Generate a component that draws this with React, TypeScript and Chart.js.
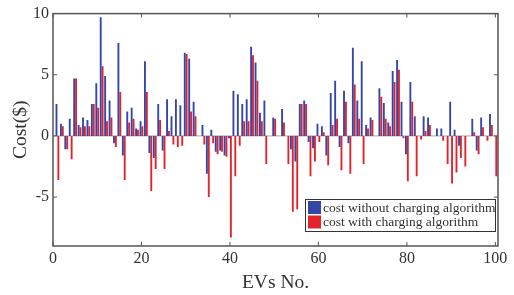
import { useEffect, useRef } from "react";
import { Chart, registerables } from "chart.js";

Chart.register(...registerables);

const evNumbers: number[] = Array.from({ length: 100 }, (_, i) => i + 1);

const costWithout: number[] = [
  2.6, 1.0, -1.1, 1.4, 4.7, 0.9, 1.5, 1.3, 2.6, 4.3,
  9.7, 4.9, 2.9, -0.6, 7.6, -1.6, 2.0, 2.3, 0.6, 1.2,
  6.1, -1.4, -1.8, 2.6, -1.2, 3.0, 1.6, 3.0, 2.5, 6.8,
  6.3, 2.8, 0, 0.9, -3.1, 0.5, -1.3, -1.2, -1.6, -0.2,
  3.7, 3.4, 2.6, 3.0, 7.3, 6.0, 1.9, 2.9, 0, 1.5,
  0, 2.2, 0, -1.1, -2.1, 2.6, 2.9, -0.5, -1.0, 1.0,
  0.8, -1.6, 3.5, 4.5, -0.9, 3.7, -0.6, 7.2, 2.9, 6.1,
  0.9, 1.5, 0, 3.9, 2.7, 1.1, 5.3, 6.2, 2.8, -1.5,
  4.4, 1.6, 0, 1.6, 1.5, 0, 0.6, 0.6, 0, 2.8,
  0.5, -0.8, 0, 0, 1.4, -1.2, 1.5, 0, 1.8, 0,
];

const costWith: number[] = [
  -3.6, 0.8, -1.1, -1.9, 4.7, 0.7, 0.8, 0.8, 2.6, 2.3,
  5.7, 1.2, 1.5, -0.9, 3.6, -3.6, 1.1, 1.4, 0.5, 0.8,
  3.6, -4.5, -2.7, 1.3, -2.7, 0.4, -0.7, -0.9, -0.8, 6.7,
  2.0, 1.6, 0, -0.7, -5.0, -0.6, -1.5, -1.3, -1.7, -8.3,
  -3.3, -0.8, 1.2, 1.2, 6.6, 4.5, 1.2, -2.3, 0, 1.4,
  0, 1.1, -2.3, -6.2, -6.0, 2.6, 2.6, -3.3, -2.1, -0.5,
  0.3, -2.4, 0.9, 1.4, -2.8, 2.8, -3.1, 4.2, 1.4, -2.3,
  0.6, 1.3, 0, 3.2, 1.4, 0.8, 4.4, 5.4, -0.2, -3.7,
  2.8, -3.3, -0.3, 0.4, 0.9, 0, 0, -0.4, -2.3, -3.9,
  -3.0, -1.8, -2.5, 0, 0.3, -1.5, 0.7, -0.4, 0.9, -3.3,
];

const xTicks: number[] = [0, 20, 40, 60, 80, 100];
const yTicks: number[] = [-5, 0, 5, 10];

const seriesLabels: string[] = ["cost without charging algorithm", "cost with charging algorithm"];
const seriesColors: string[] = ["#3447a8", "#e3232b"];

const SERIF = "'Liberation Serif', 'DejaVu Serif', serif";

const framePlugin = {
  id: "matlabFrame",
  beforeDatasetsDraw(chart: any) {
    const { ctx, chartArea, scales } = chart;
    const y0 = scales.y.getPixelForValue(0);
    ctx.save();
    ctx.strokeStyle = "#a8a8a8";
    ctx.lineWidth = 1;
    ctx.beginPath();
    ctx.moveTo(chartArea.left, y0);
    ctx.lineTo(chartArea.right, y0);
    ctx.stroke();
    ctx.restore();
  },
  afterDraw(chart: any) {
    const { ctx, chartArea, scales } = chart;
    const { left, right, top, bottom } = chartArea;
    ctx.save();
    ctx.strokeStyle = "#555";
    ctx.lineWidth = 1.5;
    ctx.strokeRect(left, top, right - left, bottom - top);
    ctx.lineWidth = 1;
    const tl = 4;
    ctx.beginPath();
    xTicks.forEach((v) => {
      const x = scales.x.getPixelForValue(v);
      ctx.moveTo(x, bottom);
      ctx.lineTo(x, bottom - tl);
      ctx.moveTo(x, top);
      ctx.lineTo(x, top + tl);
    });
    yTicks.forEach((v) => {
      const y = scales.y.getPixelForValue(v);
      ctx.moveTo(left, y);
      ctx.lineTo(left + tl, y);
      ctx.moveTo(right, y);
      ctx.lineTo(right - tl, y);
    });
    ctx.stroke();

    // axis titles
    ctx.fillStyle = "#333";
    ctx.font = `19.5px ${SERIF}`;
    ctx.textAlign = "center";
    ctx.textBaseline = "middle";
    ctx.fillText("EVs No.", (left + right) / 2, 283);
    ctx.save();
    ctx.translate(21, (top + bottom) / 2);
    ctx.rotate(-Math.PI / 2);
    ctx.fillText("Cost($)", 0, 0);
    ctx.restore();

    // legend
    const lx = 305, ly = 199, lw = 190, lh = 32;
    ctx.fillStyle = "#fff";
    ctx.fillRect(lx, ly, lw, lh);
    ctx.strokeStyle = "#333";
    ctx.lineWidth = 1;
    ctx.strokeRect(lx + 0.5, ly + 0.5, lw, lh);
    ctx.font = `13.5px ${SERIF}`;
    ctx.textAlign = "left";
    ctx.textBaseline = "middle";
    seriesLabels.forEach((lab, i) => {
      const cy = ly + 8.5 + i * 14.5;
      ctx.fillStyle = seriesColors[i];
      ctx.fillRect(lx + 3, cy - 6.5, 13, 13);
      ctx.fillStyle = "#333";
      ctx.fillText(lab, lx + 18, cy + 0.5);
    });
    ctx.restore();
  },
};

export default function App() {
  const canvasRef = useRef<HTMLCanvasElement | null>(null);

  useEffect(() => {
    document.body.style.margin = "0";
    const canvas = canvasRef.current;
    if (!canvas) return;
    const chart = new Chart(canvas, {
      type: "bar",
      data: {
        datasets: [
          {
            label: seriesLabels[0],
            data: evNumbers.map((x, i) => ({ x, y: costWithout[i] })),
            backgroundColor: seriesColors[0],
            borderWidth: 0,
          },
          {
            label: seriesLabels[1],
            data: evNumbers.map((x, i) => ({ x, y: costWith[i] })),
            backgroundColor: seriesColors[1],
            borderWidth: 0,
          },
        ],
      },
      options: {
        animation: false,
        responsive: false,
        maintainAspectRatio: false,
        datasets: { bar: { categoryPercentage: 0.85, barPercentage: 1.0 } },
        layout: { padding: { top: 13, right: 16, left: 0, bottom: 0 } },
        plugins: {
          legend: { display: false },
          tooltip: { enabled: false },
        },
        scales: {
          x: {
            type: "linear",
            min: 0,
            max: 100.6,
            offset: false,
            grid: { display: false, drawTicks: false },
            border: { display: false },
            afterBuildTicks: (s: any) => {
              s.ticks = xTicks.map((v) => ({ value: v }));
            },
            afterFit: (s: any) => {
              s.height = 49;
            },
            ticks: {
              padding: 3,
              color: "#333",
              font: { family: SERIF, size: 16 },
              maxRotation: 0,
              autoSkip: false,
              callback: (v: any) => String(v),
            },
          },
          y: {
            type: "linear",
            min: -9,
            max: 10,
            grid: { display: false, drawTicks: false },
            border: { display: false },
            afterBuildTicks: (s: any) => {
              s.ticks = yTicks.map((v) => ({ value: v }));
            },
            afterFit: (s: any) => {
              s.width = 53;
            },
            ticks: {
              padding: 4,
              color: "#333",
              font: { family: SERIF, size: 16 },
              autoSkip: false,
              callback: (v: any) => String(v),
            },
          },
        },
      },
      plugins: [framePlugin],
    });
    return () => chart.destroy();
  }, []);

  return (
    <div style={{ width: 514, height: 295, background: "#fff" }}>
      <canvas ref={canvasRef} width={514} height={295} style={{ display: "block" }} />
    </div>
  );
}
